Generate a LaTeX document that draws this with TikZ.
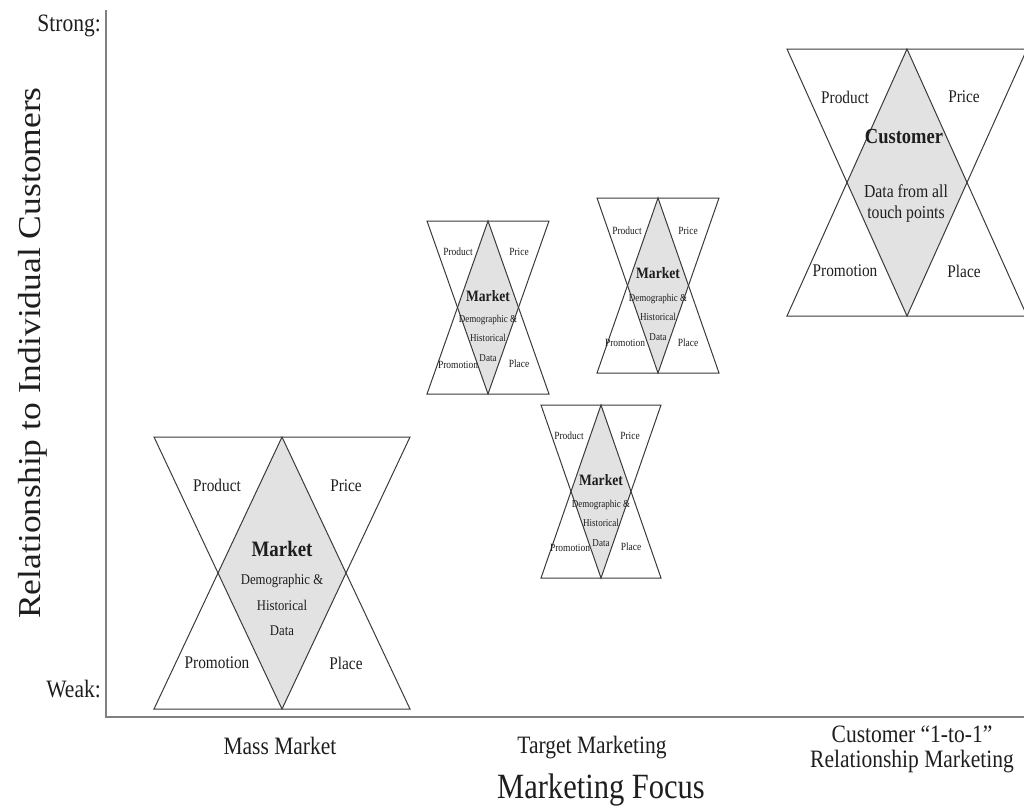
\documentclass[tikz,border=0pt]{standalone}
\usepackage{fontspec}
\setmainfont{Liberation Serif}[FakeStretch=0.86]
\newfontfamily\ylabelfont{Liberation Serif}
\definecolor{lineclr}{HTML}{3A3A3A}
\definecolor{axisclr}{HTML}{808080}
\definecolor{coreclr}{HTML}{E2E2E2}
\definecolor{txtclr}{HTML}{1E1E1E}
\tikzset{
  glassline/.style={draw=lineclr,line width=1pt,line join=miter},
  corefill/.style={fill=coreclr},
  axisline/.style={draw=axisclr,line width=2pt},
  txt/.style={text=txtclr,inner sep=0pt,align=center},
  fbig/.style={font=\fontsize{17.8}{20}\selectfont},
  fbigbold/.style={font=\fontsize{22}{24}\selectfont\bfseries},
  fdata/.style={font=\fontsize{14.8}{25.5}\selectfont},
  fsmall/.style={font=\fontsize{11}{12}\selectfont},
  fsmallbold/.style={font=\fontsize{15.8}{17}\selectfont\bfseries},
  fsmalldata/.style={font=\fontsize{10.5}{19.5}\selectfont},
  faxis/.style={font=\fontsize{25}{26}\selectfont},
}
% hourglass: #1 name, #2 centre x, #3 top y, #4 bottom y, #5 half width
\newcommand\hourglass[5]{%
  \coordinate (#1-tl) at (#2-#5,#3);
  \coordinate (#1-tr) at (#2+#5,#3);
  \coordinate (#1-bl) at (#2-#5,#4);
  \coordinate (#1-br) at (#2+#5,#4);
  \coordinate (#1-t) at (#2,#3);
  \coordinate (#1-b) at (#2,#4);
  \coordinate (#1-ml) at (#2-#5/2,#3/2+#4/2);
  \coordinate (#1-mr) at (#2+#5/2,#3/2+#4/2);
  \fill[corefill] (#1-t) -- (#1-ml) -- (#1-b) -- (#1-mr) -- cycle;
  \draw[glassline] (#1-tl) -- (#1-tr) -- (#1-b) -- cycle;
  \draw[glassline] (#1-bl) -- (#1-br) -- (#1-t) -- cycle;
}
\begin{document}
\begin{tikzpicture}[x=1pt,y=-1pt]
\useasboundingbox (0,0) rectangle (1024,806);

% axes
\coordinate (ytop) at (106,10);
\coordinate (origin) at (106,717);
\coordinate (xend) at (1024,717);
\draw[axisline] (ytop) -- (origin) -- (xend);

\node[txt,faxis,anchor=base east] (strong) at (101,31) {Strong:};
\node[txt,faxis,anchor=base east] (weak) at (101,697) {Weak:};
\node[txt,rotate=90] (ylab) at (33,353)
  {\scalebox{1}[0.9]{\ylabelfont\fontsize{35.5}{36}\selectfont Relationship to Individual Customers}};

\node[txt,faxis,anchor=base] (mass) at (280,754) {Mass Market};
\node[txt,faxis,anchor=base] (target) at (592,753) {Target Marketing};
\node[txt,faxis,anchor=base] (onetoone) at (912,742) {Customer “1-to-1”};
\node[txt,faxis,anchor=base] (relmkt) at (912,767) {Relationship Marketing};
\node[txt,font=\fontsize{35.5}{36}\selectfont,anchor=base] (focus) at (601,798) {Marketing Focus};

% mass market glass
\hourglass{mm}{282}{437}{709}{128}
\node[txt,fbig] (mm-prod) at (217,485) {Product};
\node[txt,fbig] (mm-price) at (346,486) {Price};
\node[txt,fbigbold] (mm-core) at (282,549) {Market};
\node[txt,fdata] (mm-data) at (282,605) {Demographic \&\\Historical\\Data};
\node[txt,fbig] (mm-promo) at (217,663) {Promotion};
\node[txt,fbig] (mm-place) at (346,663) {Place};

% target marketing glasses
\hourglass{ta}{488}{221}{394}{61}
\node[txt,fsmall] (ta-prod) at (458,252) {Product};
\node[txt,fsmall] (ta-price) at (519,252) {Price};
\node[txt,fsmallbold] (ta-core) at (488,296) {Market};
\node[txt,fsmalldata] (ta-data) at (488,338) {Demographic \&\\Historical\\Data};
\node[txt,fsmall] (ta-promo) at (458,365) {Promotion};
\node[txt,fsmall] (ta-place) at (519,364) {Place};

\hourglass{tb}{658}{198}{373}{61}
\node[txt,fsmall] (tb-prod) at (627,231) {Product};
\node[txt,fsmall] (tb-price) at (688,231) {Price};
\node[txt,fsmallbold] (tb-core) at (658,273) {Market};
\node[txt,fsmalldata] (tb-data) at (658,317) {Demographic \&\\Historical\\Data};
\node[txt,fsmall] (tb-promo) at (625,343) {Promotion};
\node[txt,fsmall] (tb-place) at (688,343) {Place};

\hourglass{tc}{601}{405}{578}{60}
\node[txt,fsmall] (tc-prod) at (569,436) {Product};
\node[txt,fsmall] (tc-price) at (630,436) {Price};
\node[txt,fsmallbold] (tc-core) at (601,480) {Market};
\node[txt,fsmalldata] (tc-data) at (601,523) {Demographic \&\\Historical\\Data};
\node[txt,fsmall] (tc-promo) at (570,548) {Promotion};
\node[txt,fsmall] (tc-place) at (631,547) {Place};

% one-to-one glass
\hourglass{cu}{907}{49}{316}{120}
\node[txt,fbig] (cu-prod) at (845,97) {Product};
\node[txt,fbig] (cu-price) at (964,97) {Price};
\node[txt,font=\fontsize{21.5}{23}\selectfont\bfseries] (cu-core) at (904,137) {Customer};
\node[txt,font=\fontsize{18.3}{21}\selectfont] (cu-data) at (906,204) {Data from all\\touch points};
\node[txt,fbig] (cu-promo) at (845,271) {Promotion};
\node[txt,fbig] (cu-place) at (964,271) {Place};
\end{tikzpicture}
\end{document}
